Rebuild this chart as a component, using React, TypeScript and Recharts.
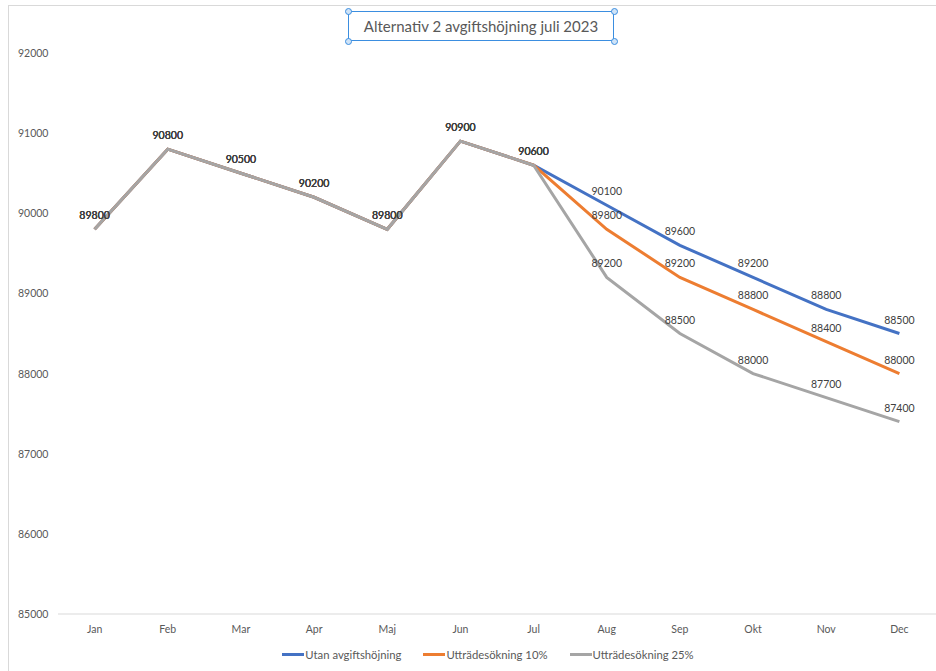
import React from 'react';
import { LineChart, Line, XAxis, YAxis, LabelList } from 'recharts';

const months = ['Jan', 'Feb', 'Mar', 'Apr', 'Maj', 'Jun', 'Jul', 'Aug', 'Sep', 'Okt', 'Nov', 'Dec'];
const utan = [89800, 90800, 90500, 90200, 89800, 90900, 90600, 90100, 89600, 89200, 88800, 88500];
const utt10 = [89800, 90800, 90500, 90200, 89800, 90900, 90600, 89800, 89200, 88800, 88400, 88000];
const utt25 = [89800, 90800, 90500, 90200, 89800, 90900, 90600, 89200, 88500, 88000, 87700, 87400];
const yTicks = [85000, 86000, 87000, 88000, 89000, 90000, 91000, 92000];

const SERIES = [
  { key: 'utan', name: 'Utan avgiftshöjning', color: '#4472C4' },
  { key: 'utt10', name: 'Utträdesökning 10%', color: '#ED7D31' },
  { key: 'utt25', name: 'Utträdesökning 25%', color: '#A5A5A5' },
];

const data = months.map((m, i) => ({ month: m, utan: utan[i], utt10: utt10[i], utt25: utt25[i] }));

const FONT = 'Lato, "Open Sans", sans-serif';

// y labels sit left-aligned near the frame, like Excel
const YTick = ({ y, payload }: any) => (
  <text x={18} y={y} dy={4} fontSize={10.5} fill="#595959" fontFamily={FONT}>
    {payload.value}
  </text>
);

const Handle = ({ left, top }: { left: number; top: number }) => (
  <div
    style={{
      position: 'absolute',
      left: left - 3,
      top: top - 3,
      width: 5,
      height: 5,
      borderRadius: '50%',
      border: '1px solid #3b8ee0',
      background: '#cfe3f7',
    }}
  />
);

export default function App() {
  return (
    <div style={{ position: 'fixed', left: 0, top: 0, width: 936, height: 671, background: '#fff', overflow: 'hidden', fontFamily: FONT }}>
      {/* chart frame */}
      <div style={{ position: 'absolute', left: 8, top: 5, width: 940, height: 680, borderLeft: '1px solid #d9d9d9', borderTop: '1px solid #d9d9d9' }} />

      <LineChart width={936} height={671} data={data} margin={{ top: 53, right: 0, bottom: 0, left: 0 }}>
        <XAxis
          dataKey="month"
          height={57}
          padding={{ left: 36.6, right: 36.6 }}
          axisLine={{ stroke: '#d9d9d9' }}
          tickLine={false}
          tick={{ fontSize: 10.5, fill: '#595959', fontFamily: FONT }}
          tickMargin={6}
        />
        <YAxis
          width={58}
          domain={[85000, 92000]}
          ticks={yTicks}
          axisLine={false}
          tickLine={false}
          tick={<YTick />}
        />
        {SERIES.map((s) => (
          <Line
            key={s.key}
            dataKey={s.key}
            name={s.name}
            stroke={s.color}
            strokeWidth={3}
            dot={false}
            isAnimationActive={false}
          >
            <LabelList dataKey={s.key} position="top" offset={10} fontSize={10.5} fill="#404040" fontFamily={FONT} />
          </Line>
        ))}
      </LineChart>

      {/* title with selection box */}
      <div
        style={{
          position: 'absolute',
          left: 348,
          top: 11,
          width: 266,
          height: 30,
          border: '1px solid #3b8ee0',
          boxSizing: 'border-box',
          display: 'flex',
          alignItems: 'center',
          justifyContent: 'center',
          fontSize: 15,
          color: '#595959',
          whiteSpace: 'nowrap',
        }}
      >
        Alternativ 2 avgiftshöjning juli 2023
      </div>
      <Handle left={348} top={11} />
      <Handle left={614} top={11} />
      <Handle left={348} top={41} />
      <Handle left={614} top={41} />

      {/* legend */}
      <div style={{ position: 'absolute', left: 20, top: 648, width: 936, display: 'flex', justifyContent: 'center', gap: 22, fontSize: 11.3, color: '#595959' }}>
        {SERIES.map((s) => (
          <div key={s.key} style={{ display: 'flex', alignItems: 'center' }}>
            <div style={{ width: 22, height: 3, background: s.color, marginRight: 1 }} />
            <span>{s.name}</span>
          </div>
        ))}
      </div>
    </div>
  );
}
